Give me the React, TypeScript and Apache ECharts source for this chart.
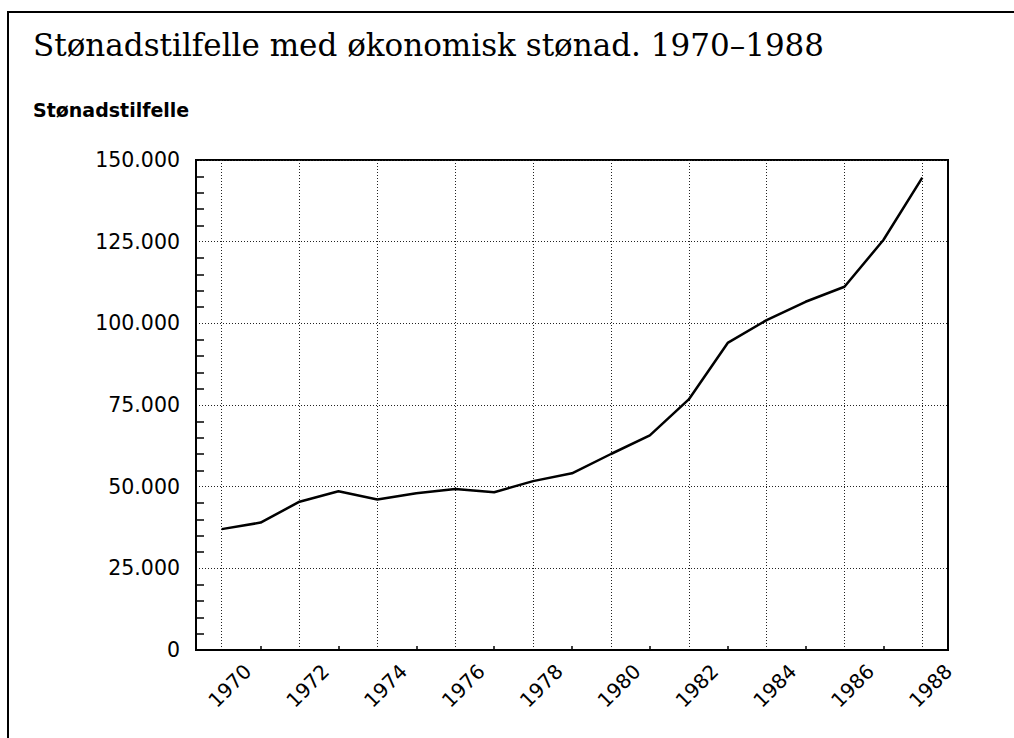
import React, { useEffect, useRef } from "react";
import * as echarts from "echarts";

const years = [1970, 1971, 1972, 1973, 1974, 1975, 1976, 1977, 1978, 1979, 1980, 1981, 1982, 1983, 1984, 1985, 1986, 1987, 1988];
const cases = [37000, 39000, 45400, 48600, 46100, 48000, 49300, 48300, 51700, 54100, 60000, 65700, 76700, 94000, 101000, 106600, 111200, 125500, 144600];
const labelYears = [1970, 1972, 1974, 1976, 1978, 1980, 1982, 1984, 1986, 1988];
const tickYears = [1971, 1973, 1975, 1977, 1979, 1981, 1983, 1985, 1987];
const titleText = "Stønadstilfelle med økonomisk stønad. 1970–1988";
const yAxisTitle = "Stønadstilfelle";

function fmt(v: number): string {
  return String(Math.round(v)).replace(/\B(?=(\d{3})+(?!\d))/g, ".");
}

export default function App() {
  const ref = useRef<HTMLDivElement>(null);
  useEffect(() => {
    document.body.style.margin = "0";
    document.body.style.overflow = "hidden";
    const chart = echarts.init(ref.current!, null, { renderer: "svg" });
    const dotted = { color: "#222", width: 1, type: [1, 2] as any };
    chart.setOption({
      animation: false,
      backgroundColor: "#fff",
      title: [
        {
          text: titleText,
          left: 33,
          top: 29,
          padding: 0,
          textStyle: { fontFamily: "DejaVu Serif", fontSize: 31, fontWeight: "normal", color: "#000" },
        },
        {
          text: yAxisTitle,
          left: 33,
          top: 100,
          padding: 0,
          textStyle: { fontFamily: "DejaVu Sans", fontSize: 19, fontWeight: "bold", color: "#000" },
        },
      ],
      graphic: [
        {
          type: "polyline",
          shape: { points: [[8, 760], [8, 12], [1014, 12]] },
          style: { fill: "none", stroke: "#000", lineWidth: 2 },
          silent: true,
        },
      ],
      grid: {
        left: 196,
        top: 160,
        right: 66,
        bottom: 88,
        show: true,
        borderColor: "#000",
        borderWidth: 2,
        containLabel: false,
      },
      xAxis: [
        {
          type: "value",
          min: 1969.34,
          max: 1988.66,
          position: "bottom",
          axisLine: { show: true, lineStyle: { color: "#000", width: 2 } },
          axisTick: { show: false, customValues: labelYears },
          axisLabel: {
            customValues: labelYears,
            rotate: 45,
            align: "center",
            verticalAlign: "middle",
            padding: [0, 0, 0, 23],
            margin: 44,
            fontFamily: "DejaVu Sans",
            fontSize: 20,
            color: "#000",
            formatter: (v: number) => String(Math.round(v)),
          },
          splitLine: { show: true, lineStyle: dotted },
        },
        {
          type: "value",
          min: 1969.34,
          max: 1988.66,
          position: "bottom",
          axisLine: { show: false },
          axisTick: { show: true, inside: true, length: 4, customValues: tickYears, lineStyle: { color: "#000", width: 1.5 } },
          axisLabel: { show: false },
          splitLine: { show: false },
        },
      ],
      yAxis: {
        type: "value",
        min: 0,
        max: 150000,
        interval: 25000,
        axisLine: { show: true, lineStyle: { color: "#000", width: 2 } },
        axisTick: { show: false, inside: true },
        minorTick: { show: true, splitNumber: 5, length: 8, lineStyle: { color: "#000", width: 1.5 } },
        axisLabel: {
          margin: 16,
          fontFamily: "DejaVu Sans",
          fontSize: 20.5,
          color: "#000",
          formatter: (v: number) => fmt(v),
        },
        splitLine: { show: true, lineStyle: dotted },
      },
      series: [
        {
          type: "line",
          xAxisIndex: 0,
          data: years.map((y, i) => [y, cases[i]]),
          symbol: "none",
          lineStyle: { color: "#000", width: 2.5 },
        },
      ],
    });
    return () => chart.dispose();
  }, []);
  return <div ref={ref} style={{ width: 1014, height: 738 }} />;
}
